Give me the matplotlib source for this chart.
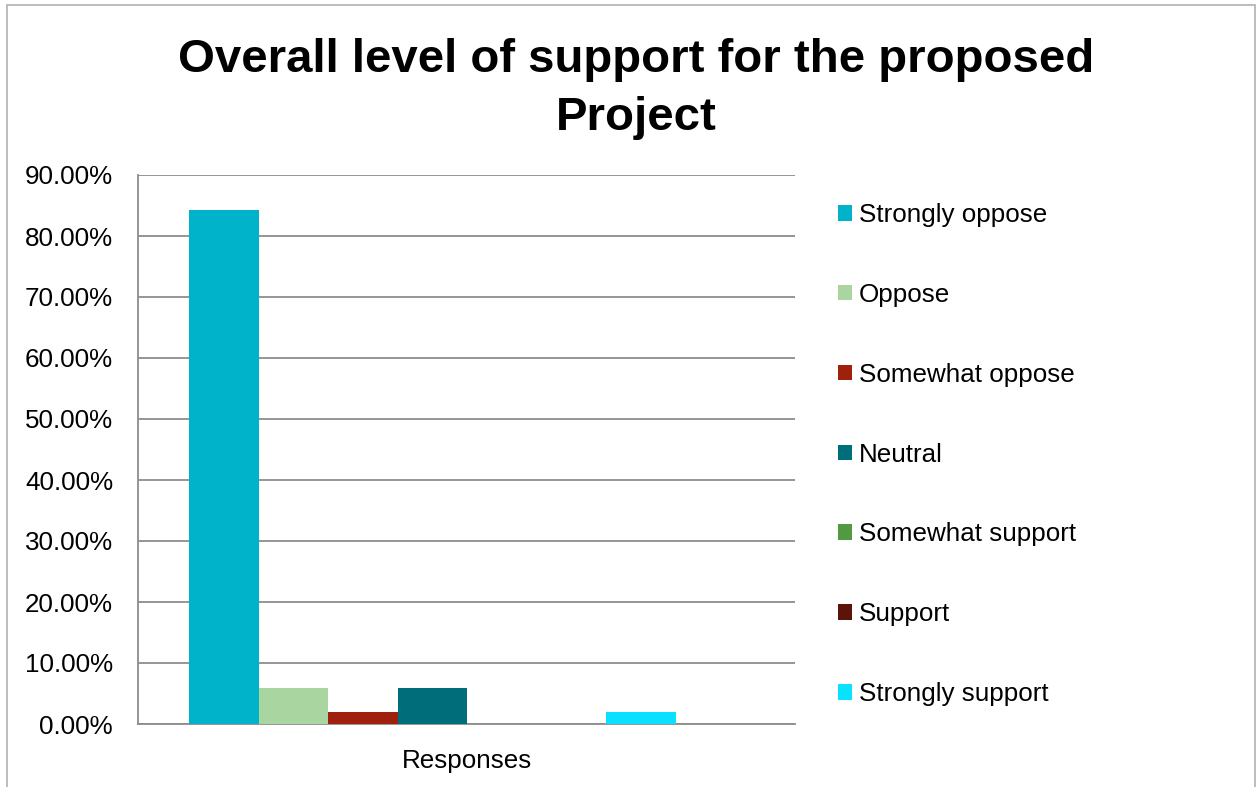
import matplotlib
matplotlib.use("Agg")
import matplotlib.pyplot as plt
from matplotlib.patches import Rectangle
from matplotlib.ticker import FuncFormatter, MultipleLocator

plt.rcParams['font.family'] = ['Liberation Sans', 'DejaVu Sans']

title = "Overall level of support for the proposed\nProject"
category = "Responses"
series = ["Strongly oppose", "Oppose", "Somewhat oppose", "Neutral",
          "Somewhat support", "Support", "Strongly support"]
values = [84.31, 5.88, 1.96, 5.88, 0.0, 0.0, 1.96]
colors = ["#00B3CB", "#A9D5A0", "#A0200E", "#006E7A", "#4F9A43", "#5C1309", "#0AE1FF"]

FS = 18.7

fig = plt.figure(figsize=(12.6, 7.87), dpi=100)
fig.patch.set_facecolor("white")
fig.add_artist(Rectangle((7/1260, -0.1), (1255-7)/1260, 1 - 5/787 + 0.1,
                         transform=fig.transFigure, fill=False,
                         edgecolor="#B0B0B0", linewidth=1.2))

ax = fig.add_axes([138/1260, 1 - 724/787, (795-138)/1260, (724-175)/787])
for i, (name, v, c) in enumerate(zip(series, values, colors)):
    ax.bar(i, v, width=1.0, color=c, label=name, zorder=3)

ax.set_ylim(0, 90)
ax.set_xlim(-1.234, 8.216)
ax.yaxis.set_major_locator(MultipleLocator(10))
ax.yaxis.set_major_formatter(FuncFormatter(lambda v, p: f"{v:.2f}%"))
ax.set_xticks([3.5])
ax.set_xticklabels([category])
ax.grid(axis="y", color="#8C8C8C", linewidth=1.3, zorder=0)
for s in ["top", "right"]:
    ax.spines[s].set_visible(False)
for s in ["left", "bottom"]:
    ax.spines[s].set_color("#8C8C8C")
    ax.spines[s].set_linewidth(1.3)
ax.tick_params(axis="both", length=0, labelsize=FS)
ax.tick_params(axis="y", pad=18)
ax.tick_params(axis="x", pad=18)

fig.text(0.505, 1 - 89/787, title, ha="center", va="center",
         fontsize=34.1, fontweight="bold", linespacing=1.42)

leg = ax.legend(loc="upper left", bbox_to_anchor=(838/1260, 1 - 203/787),
                bbox_transform=fig.transFigure, frameon=False, fontsize=FS,
                handlelength=0.54, handleheight=0.54, handletextpad=0.27,
                labelspacing=2.15, borderaxespad=0, borderpad=0)

fig.savefig("out.png", dpi=100)
